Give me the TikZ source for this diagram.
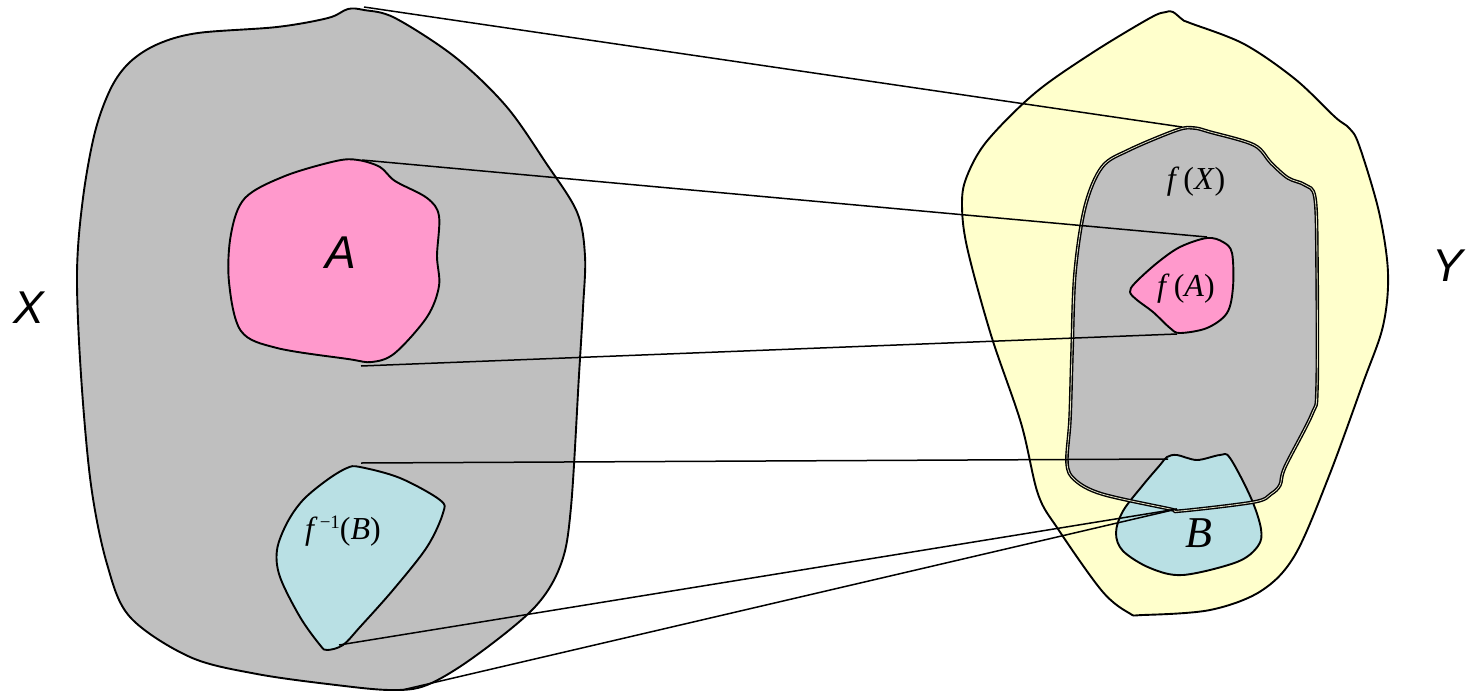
\documentclass[tikz,border=0pt]{standalone}
\usepackage{fontspec}
\newfontfamily\lsans{Liberation Sans}
\newfontfamily\lserif{Liberation Serif}
\definecolor{sgray}{RGB}{191,191,191}
\definecolor{spink}{RGB}{255,153,204}
\definecolor{sblue}{RGB}{185,224,228}
\definecolor{syellow}{RGB}{255,255,204}
\begin{document}
\begin{tikzpicture}[x=1pt,y=-1pt,
  region/.style={draw=black, line width=1.9pt, line join=round},
  link/.style={draw=black, line width=1.5pt},
  setname/.style={font=\lsans\itshape\fontsize{46}{50}\selectfont, inner sep=0pt},
  imglabel/.style={font=\lserif\fontsize{32}{36}\selectfont, inner sep=0pt}]
\useasboundingbox (0,0) rectangle (1470,691);

% X
\filldraw[region, fill=sgray] plot[smooth cycle, tension=0.55] coordinates {
(364,10)(348,9)(328,18)(277,27)(198,33)(158,44)(130,62)(111,88)(95,132)(83,198)(77,273)(81,375)(91,485)(107,564)(130,617)(190,657)(257,674)(336,685)(391,690)(427,685)(474,657)(534,608)(561,564)(571,507)(579,375)(583,308)(585,256)(577,212)(546,163)(506,106)(455,57)(395,18)};
% A
\filldraw[region, fill=spink] plot[smooth cycle, tension=0.55] coordinates {
(358,160)(380,167)(395,181)(427,198)(439,216)(437,256)(439,286)(427,317)(395,353)(372,362)(348,359)(277,348)(241,331)(229,282)(231,234)(245,198)(285,176)(336,161)};
% f^{-1}(B)
\filldraw[region, fill=sblue] plot[smooth cycle, tension=0.55] coordinates {
(360,467)(400,478)(440,500)(443,513)(427,547)(393,590)(360,627)(343,645)(327,650)(320,645)(300,617)(280,577)(277,550)(287,523)(303,500)(327,480)(347,468)};

% Y
\filldraw[region, fill=syellow] plot[smooth cycle, tension=0.55] coordinates {
(1173,12)(1183,20)(1190,23)(1244,44)(1295,79)(1335,117)(1349,128)(1359,145)(1379,212)(1388,273)(1383,326)(1363,383)(1329,476)(1295,555)(1261,591)(1210,610)(1143,615)(1129,613)(1102,591)(1058,529)(1038,494)(1021,423)(991,335)(967,247)(962,203)(967,176)(987,141)(1035,93)(1092,53)(1150,18)(1166,12)};
% f(X) fill
\def\fXpath{plot[smooth cycle, tension=0.55] coordinates {
(1194,128)(1210,132)(1254,145)(1271,163)(1288,178)(1305,185)(1315,198)(1317,264)(1317,388)(1312,414)(1285,467)(1280,485)(1271,494)(1254,502)(1180,511)(1170,509)(1102,494)(1075,480)(1067,463)(1070,419)(1072,353)(1075,273)(1085,207)(1102,167)(1129,150)(1177,130)}}
\fill[sgray] \fXpath;
% B
\filldraw[region, fill=sblue] plot[smooth cycle, tension=0.55] coordinates {
(1167,457)(1177,455)(1197,460)(1220,455)(1230,458)(1251,498)(1261,529)(1258,546)(1237,562)(1183,575)(1150,568)(1123,551)(1116,533)(1123,511)(1143,485)(1160,465)};
% f(X) outline (double)
\draw[line width=1.4pt, double=syellow!50!sgray, double distance=0.8pt, line join=round] \fXpath;
% f(A)
\filldraw[region, fill=spink] plot[smooth cycle, tension=0.55] coordinates {
(1207,238)(1223,242)(1232,253)(1233,287)(1227,313)(1207,328)(1180,333)(1170,328)(1153,312)(1137,300)(1130,292)(1135,283)(1157,263)(1180,247)};

% connector end points
\coordinate (Xtop) at (364,7);
\coordinate (fXtop) at (1182,127);
\coordinate (Atop) at (362,160);
\coordinate (fAtop) at (1207,237);
\coordinate (Abot) at (361,366);
\coordinate (fAbot) at (1177,334);
\coordinate (iBtop) at (361,463);
\coordinate (Btop) at (1168,459);
\coordinate (iBbot) at (339,645);
\coordinate (Xbot) at (402,690);
\coordinate (Bpt) at (1177,509);

\draw[link] (Xtop) -- (fXtop);
\draw[link] (Atop) -- (fAtop);
\draw[link] (Abot) -- (fAbot);
\draw[link] (iBtop) -- (Btop);
\draw[link] (iBbot) -- (Bpt);
\draw[link] (Xbot) -- (Bpt);

% labels
\node[setname] (lX) at (29,308) {X};
\node[setname] (lY) at (1448,266) {Y};
\node[setname] (lA) at (341,253) {A};
\node[imglabel] (lfX) at (1196,182) {\textit{f}\kern4pt(\textit{X})};
\node[imglabel] (lfA) at (1186,289) {\textit{f}\kern4pt(\textit{A})};
\node[imglabel] (liB) at (343,531) {\textit{f}\kern2pt\raisebox{11pt}{\fontsize{19}{19}\selectfont −1}(\textit{B})};
\node[font=\lserif\fontsize{44}{48}\selectfont, inner sep=0pt] (lB) at (1199,533) {\textit{B}};
\end{tikzpicture}
\end{document}
